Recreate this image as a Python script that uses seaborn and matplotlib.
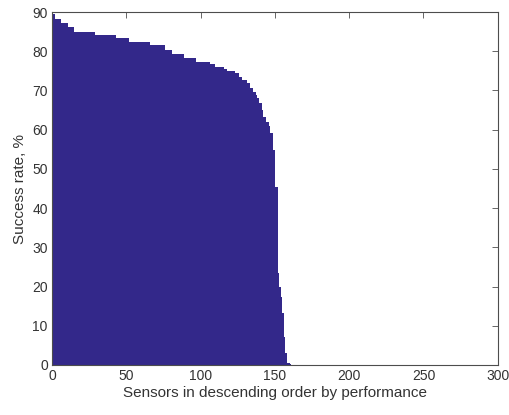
import matplotlib
matplotlib.use("Agg")
import matplotlib.pyplot as plt
import seaborn as sns
import numpy as np
import pandas as pd

# Success rate per sensor (sorted in descending order)
success_rate = [
    89.5, 89.5,
    88.2, 88.2, 88.2, 88.2,
    87.2, 87.2, 87.2, 87.2, 87.2,
    86.1, 86.1, 86.1, 86.1,
    85.0, 85.0, 85.0, 85.0, 85.0, 85.0, 85.0, 85.0, 85.0, 85.0, 85.0, 85.0, 85.0, 85.0,
    84.2, 84.2, 84.2, 84.2, 84.2, 84.2, 84.2, 84.2, 84.2, 84.2, 84.2, 84.2, 84.2, 84.2,
    83.3, 83.3, 83.3, 83.3, 83.3, 83.3, 83.3, 83.3, 83.3,
    82.3, 82.3, 82.3, 82.3, 82.3, 82.3, 82.3, 82.3, 82.3, 82.3, 82.3, 82.3, 82.3, 82.3,
    81.5, 81.5, 81.5, 81.5, 81.5, 81.5, 81.5, 81.5, 81.5, 81.5,
    80.4, 80.4, 80.4, 80.4, 80.4,
    79.3, 79.3, 79.3, 79.3, 79.3, 79.3, 79.3, 79.3,
    78.2, 78.2, 78.2, 78.2, 78.2, 78.2, 78.2, 78.2,
    77.2, 77.2, 77.2, 77.2, 77.2, 77.2, 77.2, 77.2, 77.2,
    76.7, 76.7, 76.7, 76.7,
    76.1, 76.1, 76.1, 76.1, 76.1, 76.1,
    75.5, 75.5,
    75.0, 75.0, 75.0, 75.0, 75.0,
    74.4, 74.4, 74.4,
    73.5, 73.5,
    72.7, 72.7, 72.7,
    71.9, 71.9,
    70.7, 70.7,
    69.6, 69.6,
    68.8,
    68.2,
    66.8, 66.8,
    65.0,
    63.3, 63.3,
    62.0, 62.0,
    60.9,
    59.2, 59.2,
    54.8,
    45.5, 45.5,
    23.4,
    20.0,
    17.4,
    13.2,
    7.2,
    3.0,
    0.5, 0.5,
    0.3,
]

x_ticks = [0, 50, 100, 150, 200, 250, 300]
y_ticks = [0, 10, 20, 30, 40, 50, 60, 70, 80, 90]
x_label = "Sensors in descending order by performance"
y_label = "Success rate, %"

sensor_pos = np.arange(len(success_rate)) + 0.5
df = pd.DataFrame({"sensor": sensor_pos, "rate": success_rate})

sns.set_style("white")
plt.rcParams["font.family"] = ["Liberation Sans", "DejaVu Sans"]

bar_color = "#33288a"
axis_color = "#4d4d4d"
text_color = "#333333"

fig = plt.figure(figsize=(5.10, 4.15), dpi=100)
ax = fig.add_axes([0.102, 0.1205, 0.874, 0.8505])

sns.barplot(data=df, x="sensor", y="rate", native_scale=True, width=1.0,
            color=bar_color, saturation=1, linewidth=0, antialiased=False,
            ax=ax, errorbar=None)

ax.set_xlim(0, 300)
ax.set_ylim(0, 90)
ax.set_xticks(x_ticks)
ax.set_yticks(y_ticks)
ax.set_xticklabels([str(t) for t in x_ticks])
ax.set_yticklabels([str(t) for t in y_ticks])

ax.set_xlabel(x_label, fontsize=11, color=text_color, labelpad=2)
ax.set_ylabel(y_label, fontsize=11, color=text_color, labelpad=4)

ax.tick_params(axis="both", which="both", direction="in", length=4, width=0.6,
               top=True, right=True, labelsize=10, colors=axis_color,
               labelcolor=text_color, pad=3)
for s in ax.spines.values():
    s.set_visible(True)
    s.set_color(axis_color)
    s.set_linewidth(0.8)

fig.savefig("out.png", dpi=100, facecolor="white")
